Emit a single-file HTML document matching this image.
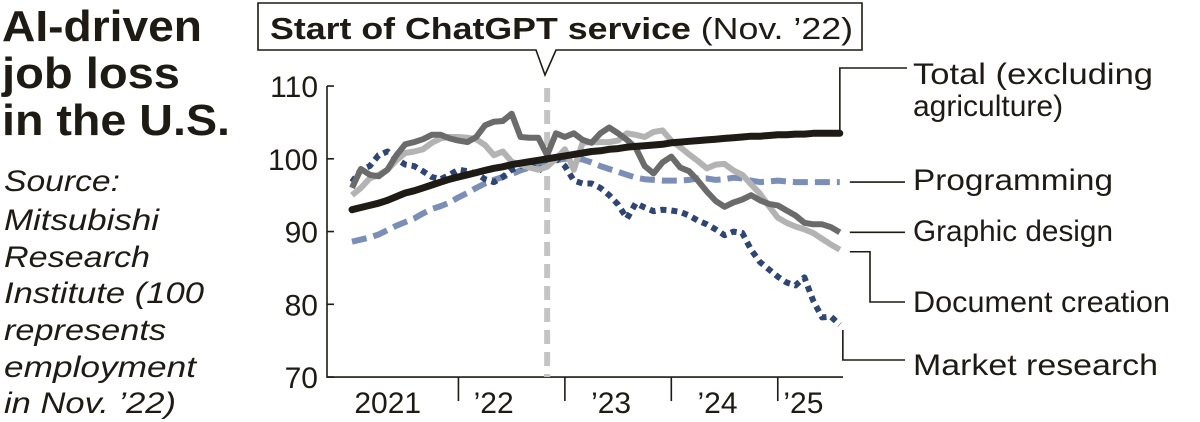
<!DOCTYPE html>
<html><head><meta charset="utf-8"><style>
html,body{margin:0;padding:0;background:#fff;}
svg{display:block;font-family:"Liberation Sans",sans-serif;}
</style></head><body>
<svg id="chart" width="1200" height="422" viewBox="0 0 1200 422">
<g font-weight="bold" font-size="44" fill="#1e1a14">
<text x="2" y="41" textLength="200" lengthAdjust="spacingAndGlyphs">AI-driven</text>
<text x="2" y="88" textLength="178" lengthAdjust="spacingAndGlyphs">job loss</text>
<text x="2" y="135" textLength="228" lengthAdjust="spacingAndGlyphs">in the U.S.</text>
</g>
<g font-style="italic" font-size="30" fill="#1e1a14">
<text x="4" y="191" textLength="116" lengthAdjust="spacingAndGlyphs">Source:</text>
<text x="4" y="230" textLength="155" lengthAdjust="spacingAndGlyphs">Mitsubishi</text>
<text x="4" y="267" textLength="146" lengthAdjust="spacingAndGlyphs">Research</text>
<text x="4" y="303" textLength="200" lengthAdjust="spacingAndGlyphs">Institute (100</text>
<text x="4" y="340" textLength="162" lengthAdjust="spacingAndGlyphs">represents</text>
<text x="4" y="377" textLength="192" lengthAdjust="spacingAndGlyphs">employment</text>
<text x="4" y="413" textLength="172" lengthAdjust="spacingAndGlyphs">in Nov. ’22)</text>
</g>
<g>
<path d="M258,3 H862 V50 H556 L545,75 L536,50 H258 Z" fill="#fff" stroke="#1e1a14" stroke-width="1.6"/>
<text x="270" y="39" font-size="31" fill="#1e1a14" textLength="583" lengthAdjust="spacingAndGlyphs"><tspan font-weight="bold">Start of ChatGPT service</tspan> (Nov. ’22)</text>
</g>
<g id="axes"></g>
<g id="series"></g>
<g id="labels" font-size="30" fill="#1e1a14" stroke="none"></g>
</svg>
<script>
const yTicks=[110,100,90,80,70];
const xTickLabels=['2021','’22','’23','’24','’25'];
const eventMonth=22;
const total=[93.0,93.3,93.6,93.9,94.3,94.8,95.3,95.6,96.0,96.4,96.8,97.2,97.5,97.8,98.1,98.4,98.7,98.9,99.2,99.4,99.6,99.8,100.0,100.2,100.4,100.6,100.8,101.0,101.1,101.3,101.4,101.6,101.7,101.8,101.9,102.0,102.2,102.3,102.4,102.5,102.6,102.7,102.8,102.9,103.0,103.1,103.1,103.2,103.3,103.3,103.4,103.4,103.5,103.5,103.5,103.5];
const programming=[88.6,88.9,89.2,89.6,90.2,90.8,91.3,91.8,92.5,93.1,93.5,94.0,94.7,95.3,96.0,96.6,97.1,97.5,97.9,98.4,98.8,99.2,99.6,99.8,100.0,100.1,99.9,99.5,99.0,98.6,98.2,97.8,97.4,97.2,97.1,97.0,97.0,97.0,97.1,97.3,97.3,97.1,97.2,97.4,97.3,97.0,96.8,96.9,97.0,96.9,96.8,96.8,96.8,96.8,96.8,96.8];
const marketResearch=[96.8,98.5,99.0,100.5,101.0,100.0,99.2,99.0,98.3,97.5,97.2,97.8,98.5,98.3,98.0,97.2,96.8,97.5,98.5,99.0,99.3,98.3,99.5,100.2,99.0,97.0,96.6,96.6,96.0,95.0,93.7,91.8,93.9,93.3,92.8,93.0,92.9,92.7,92.2,91.5,91.0,90.3,89.5,90.0,89.8,87.5,85.8,84.8,83.8,83.0,82.6,83.7,80.5,78.2,78.3,77.2];
const graphicDesign=[96.0,98.6,97.8,97.6,98.5,100.5,102.0,102.3,102.7,103.3,103.3,102.8,102.5,102.3,103.0,104.6,105.1,105.2,106.2,103.0,102.9,102.9,100.5,103.5,103.0,103.5,102.6,102.2,103.5,104.3,103.5,102.6,101.5,99.0,98.0,99.5,100.3,98.8,98.3,97.0,95.5,94.2,93.4,94.0,94.4,95.0,94.3,93.8,93.6,92.9,92.2,91.2,91.0,91.0,90.6,89.9];
const documentCreation=[95.0,96.0,97.3,97.8,98.5,99.8,100.8,101.0,101.3,102.2,102.8,103.0,103.0,102.9,102.7,101.9,100.5,101.0,99.6,99.2,98.8,98.5,98.9,100.0,101.3,98.5,102.2,102.3,102.3,102.3,102.5,103.5,103.3,103.0,103.7,103.9,102.5,101.6,100.6,99.7,98.7,99.2,99.3,98.4,97.8,96.5,95.2,93.5,91.9,91.2,90.7,90.3,89.8,89.0,88.2,87.5];

const NS='http://www.w3.org/2000/svg';
const X0=352, XSTEP=8.87;
const x=m=>X0+m*XSTEP;
const y=v=>158.8-(v-100)*7.275;
function mk(tag,attrs,parent){const e=document.createElementNS(NS,tag);for(const k in attrs)e.setAttribute(k,attrs[k]);parent.appendChild(e);return e;}
const axes=document.getElementById('axes');
const axL=327, axR=843;
let a=mk('path',{d:`M${axL},${y(110)} V${y(70)} H${axR}`,fill:'none',stroke:'#1e1a14','stroke-width':1.6},axes);


yTicks.forEach(v=>{
 const t=mk('line',{x1:axL,x2:axL+7,y1:y(v),y2:y(v),stroke:'#1e1a14','stroke-width':1.6},axes);
 
 
 const l=mk('text',{x:318,y:y(v)+11,'text-anchor':'end','font-size':30,fill:'#1e1a14'},axes);
 l.textContent=v;
 
 
});
xTickLabels.forEach((lab,i)=>{
 const start=i==0?axL:x(i*12), end=Math.min(x(i*12+12),axR);
 if(i>0){const t=mk('line',{x1:start,x2:start,y1:y(70),y2:y(70)+24,stroke:'#1e1a14','stroke-width':1.6},axes);
 
 }
 const l=mk('text',{x:(start+end)/2-(i==0?5:(i==1?18:7)),y:y(70)+36,'text-anchor':'middle','font-size':30,fill:'#1e1a14'},axes);
 l.textContent=lab;
 
 
});
const ev=mk('line',{x1:x(eventMonth),x2:x(eventMonth),y1:y(110)+2,y2:y(70),stroke:'#c4c4c4','stroke-width':6,'stroke-dasharray':'14,8'},axes);



const ser=document.getElementById('series');
function line(data,name,style){
 const d=data.map((v,i)=>(i?'L':'M')+x(i).toFixed(1)+','+y(v).toFixed(1)).join(' ');
 const p=mk('path',Object.assign({d:d,fill:'none','stroke-linejoin':'round'},style),ser);
 
 
}
line(programming,'programming-line',{stroke:'#7b8fb6','stroke-width':6,'stroke-dasharray':'15,7'});
line(marketResearch,'market-research-line',{stroke:'#2f4572','stroke-width':6,'stroke-dasharray':'6,5'});
line(documentCreation,'document-creation-line',{stroke:'#b3b3b3','stroke-width':6});
line(graphicDesign,'graphic-design-line',{stroke:'#6b6b6b','stroke-width':6});
line(total,'total-line',{stroke:'#1e1a14','stroke-width':7,'stroke-linecap':'round'});

const labs=document.getElementById('labels');
const last=total.length-1, xe=x(last);
function conn(d,name){const p=mk('path',{d:d,fill:'none',stroke:'#1e1a14','stroke-width':1.6},labs);
 
 }
function txt(tx,ty,s,name,w){const t=mk('text',{x:tx,y:ty},labs);t.innerHTML=s;
 if(w){t.setAttribute('textLength',w);t.setAttribute('lengthAdjust','spacingAndGlyphs');}
 
 }
conn(`M${xe},${y(total[last])} V68 H907`,'total-connector');
txt(913,84,'Total <tspan>(excluding</tspan>','total-label',240);
txt(913,116,'agriculture)','total-label-line2');
conn(`M${xe+10},${y(programming[last])} H905`,'programming-connector');
txt(913,190,'Programming','programming-label',200);
conn(`M${xe+10},${y(graphicDesign[last])} H905`,'graphic-design-connector');
txt(913,241,'Graphic design','graphic-design-label',200);
conn(`M${xe+10},${y(documentCreation[last])+2} H870 V302 H905`,'document-creation-connector');
txt(913,312,'Document creation','document-creation-label',257);
conn(`M${xe+3},330 V360 H905`,'market-research-connector');
txt(913,375,'Market research','market-research-label',245);
</script>
</body></html>
